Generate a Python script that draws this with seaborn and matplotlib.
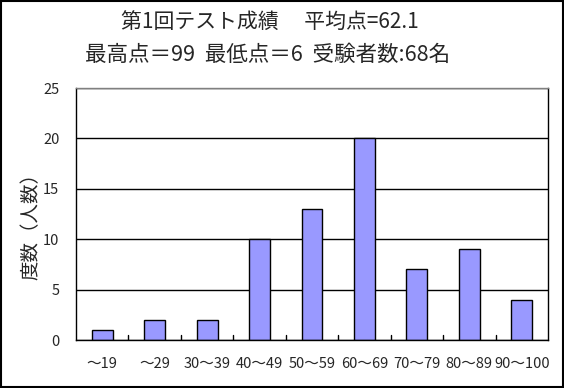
import matplotlib
matplotlib.use("Agg")
import matplotlib.pyplot as plt
import seaborn as sns
import pandas as pd

categories = ["～19", "～29", "30～39", "40～49", "50～59", "60～69", "70～79", "80～89", "90～100"]
counts = [1, 2, 2, 10, 13, 20, 7, 9, 4]
title1 = "第1回テスト成績　 平均点=62.1"
title2 = "最高点＝99  最低点＝6  受験者数:68名"
ylabel = "度数（人数）"
yticks = [0, 5, 10, 15, 20, 25]

sns.set_theme(style="white")
plt.rcParams['font.family'] = ['Noto Sans CJK JP', 'DejaVu Sans']

df = pd.DataFrame({"cat": categories, "n": counts})

fig = plt.figure(figsize=(5.64, 3.88), dpi=100)
ax = fig.add_axes([76/564, 1-340/388, (548-76)/564, (340-88)/388])
sns.barplot(data=df, x="cat", y="n", color="#9999FF", saturation=1, width=0.4,
            edgecolor="black", linewidth=1, ax=ax)
ax.set_ylim(0, 25)
ax.set_xlim(-0.5, len(categories) - 0.5)
ax.set_yticks(yticks)
ax.yaxis.grid(True, color="black", linewidth=1)
ax.set_axisbelow(True)
ax.set_xlabel("")
ax.set_ylabel(ylabel, fontsize=14, labelpad=0)
ax.yaxis.set_label_coords(-0.072, 0.47)
ax.tick_params(axis="y", length=0, labelsize=10.5, pad=12)
ax.tick_params(axis="x", length=0, labelsize=10.5, pad=12)
for i in range(1, len(categories)):
    ax.plot([i - 0.5, i - 0.5], [0, 0.5], color="black", linewidth=1)
for s in ["left", "bottom", "right"]:
    ax.spines[s].set_color("black")
    ax.spines[s].set_linewidth(1)
ax.spines["top"].set_color("#808080")
ax.spines["top"].set_linewidth(1)

fig.text(270/564, 1-22/388, title1, ha="center", va="center", fontsize=15)
fig.text(268/564, 1-55/388, title2, ha="center", va="center", fontsize=15.5)

border = plt.Rectangle((0.002, 0.002), 0.996, 0.996, transform=fig.transFigure,
                       fill=False, edgecolor="black", linewidth=1.5)
fig.patches.append(border)

fig.savefig("out.png", dpi=100)
